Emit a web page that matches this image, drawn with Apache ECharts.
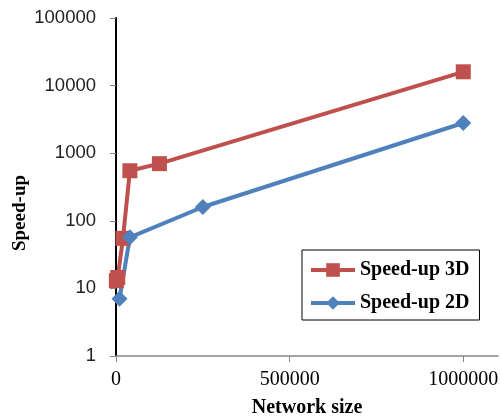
<!DOCTYPE html>
<html>
<head>
<meta charset="utf-8">
<script src="https://cdn.jsdelivr.net/npm/echarts@6/dist/echarts.min.js"></script>
<style>html,body{margin:0;padding:0;background:#fff}#c{width:500px;height:419px}</style>
</head>
<body>
<div id="c"></div>
<script>
const xTickValues = [0, 500000, 1000000];
const yTickValues = [1, 10, 100, 1000, 10000, 100000];
const size3D = [1000, 5000, 20000, 40000, 125000, 1000000];
const speedup3D = [13, 14.5, 55, 550, 700, 16000];
const size2D = [10000, 40000, 250000, 1000000];
const speedup2D = [7, 57, 160, 2800];
const seriesNames = ['Speed-up 3D', 'Speed-up 2D'];

const chart = echarts.init(document.getElementById('c'), null, {renderer: 'canvas'});
const serif = '"Liberation Serif", "Times New Roman", serif';
chart.setOption({
  animation: false,
  grid: {left: 116, right: 2, top: 18, bottom: 63, containLabel: false, outerBoundsMode: 'none'},
  xAxis: {
    type: 'value', min: 0, max: 1100000, interval: 500000,
    name: 'Network size', nameLocation: 'middle', nameGap: 42,
    nameTextStyle: {fontFamily: serif, fontWeight: 'bold', fontSize: 20, color: '#000'},
    axisLine: {lineStyle: {color: '#868686', width: 1.5}},
    axisTick: {show: true, length: 6, lineStyle: {color: '#868686'}, customValues: xTickValues},
    axisLabel: {fontFamily: serif, fontSize: 20, color: '#000', margin: 14, customValues: xTickValues,
      formatter: v => String(Math.round(v))},
    splitLine: {show: false}
  },
  yAxis: {
    type: 'log', logBase: 10, min: 1, max: 100000,
    axisLine: {show: true, lineStyle: {color: '#000', width: 2}},
    axisTick: {show: true, length: 6, lineStyle: {color: '#868686'}},
    axisLabel: {fontFamily: '"Liberation Sans", Arial, sans-serif', fontSize: 18.5, color: '#222', margin: 20,
      formatter: v => String(Math.round(v))},
    splitLine: {show: false}
  },
  legend: {
    orient: 'vertical', left: 302, top: 250,
    borderColor: '#000', borderWidth: 1,
    padding: [10, 10, 7, 7], itemGap: 13,
    itemWidth: 44, itemHeight: 17,
    lineStyle: {width: 4},
    textStyle: {fontFamily: serif, fontWeight: 'bold', fontSize: 20, color: '#000', lineHeight: 20},
    data: seriesNames
  },
  graphic: [{
    type: 'text', x: 20, y: 213, rotation: Math.PI / 2,
    style: {text: 'Speed-up', font: 'bold 19px ' + serif, fill: '#000', align: 'center', verticalAlign: 'middle'}
  }],
  series: [
    {
      name: seriesNames[0], type: 'line',
      data: size3D.map((x, i) => [x, speedup3D[i]]),
      symbol: 'rect', symbolSize: 15,
      lineStyle: {color: '#C0504D', width: 4},
      itemStyle: {color: '#C0504D'}
    },
    {
      name: seriesNames[1], type: 'line',
      data: size2D.map((x, i) => [x, speedup2D[i]]),
      symbol: 'diamond', symbolSize: 16,
      lineStyle: {color: '#4F81BD', width: 4},
      itemStyle: {color: '#4F81BD'}
    }
  ]
});
</script>
</body>
</html>
